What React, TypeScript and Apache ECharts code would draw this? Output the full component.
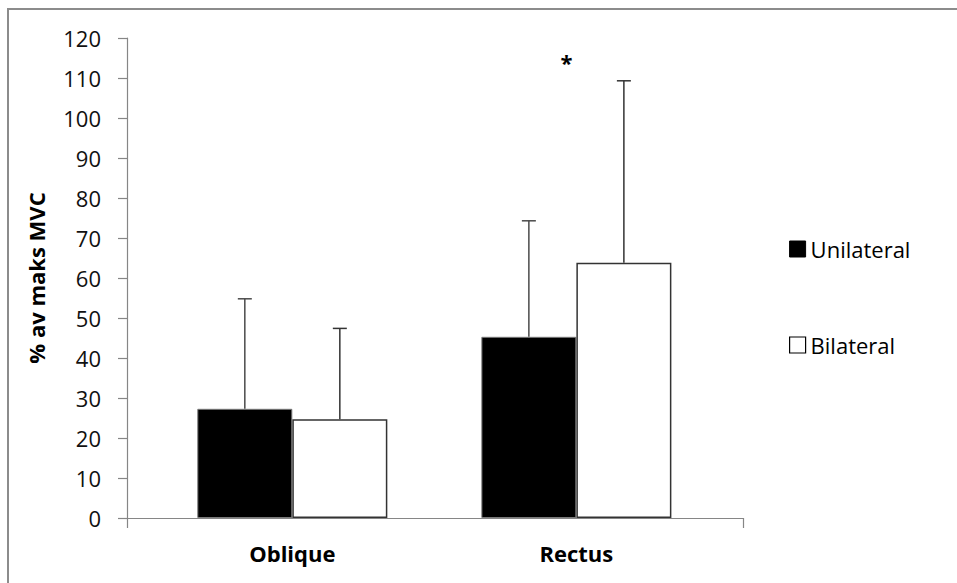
import React, { useEffect, useRef } from "react";
import * as echarts from "echarts";

const categories = ["Oblique", "Rectus"];
const unilateralMean = [27.3, 45.3];
const unilateralSd = [27.5, 29.0];
const bilateralMean = [24.7, 63.8];
const bilateralSd = [22.7, 45.5];
const significanceLabel = ["", "*"];
const significanceLevel = [null, 114];
const yTicks = { min: 0, max: 120, interval: 10 };

const FONT = "'Open Sans', 'Liberation Sans', sans-serif";
const AXIS = "#868686";
const GAP = 0.331;

function errorBar(sign: number, color: string) {
  return (params: any, api: any) => {
    const cat = api.value(0);
    const mean = api.value(1);
    const sd = api.value(2);
    const band = api.size([1, 0])[0];
    const barW = (band * (1 - GAP)) / 2;
    const base = api.coord([cat, mean]);
    const top = api.coord([cat, mean + sd]);
    const x = base[0] + (sign * barW) / 2;
    const style = { stroke: color, lineWidth: 1.5 };
    return {
      type: "group",
      children: [
        { type: "line", shape: { x1: x, y1: base[1], x2: x, y2: top[1] }, style },
        { type: "line", shape: { x1: x - 7, y1: top[1], x2: x + 7, y2: top[1] }, style },
      ],
    };
  };
}

export default function App() {
  const ref = useRef<HTMLDivElement>(null);
  useEffect(() => {
    const chart = echarts.init(ref.current!, null, { renderer: "svg" });
    const sigData = significanceLevel
      .map((v, i) => (v == null ? null : [i, v, i]))
      .filter((d) => d != null);
    chart.setOption({
      animation: false,
      backgroundColor: "#fff",
      textStyle: { fontFamily: FONT },
      graphic: [
        {
          type: "rect",
          shape: { x: 8, y: 9, width: 1000, height: 1000 },
          style: { fill: "none", stroke: "#8c8c8c", lineWidth: 2 },
          silent: true,
        },
      ],
      legend: {
        orient: "vertical",
        left: 789,
        top: 238,
        padding: 0,
        itemWidth: 16,
        itemHeight: 16,
        itemGap: 74,
        data: [
          { name: "Unilateral", icon: "rect", itemStyle: { color: "#000", borderColor: "#000", borderWidth: 1 } },
          { name: "Bilateral", icon: "rect", itemStyle: { color: "#fff", borderColor: "#000", borderWidth: 1.2 } },
        ],
        textStyle: { fontFamily: FONT, fontSize: 22, color: "#000", lineHeight: 22 },
      },
      grid: [
        { left: 127, right: 214, top: 38, bottom: 65, containLabel: false },
        { left: 150.3, right: 238.6, top: 38, bottom: 65, containLabel: false },
      ],
      xAxis: [
        {
          gridIndex: 0,
          type: "value",
          min: 0,
          max: 1,
          interval: 1,
          axisLine: { show: true, lineStyle: { color: AXIS, width: 1.2 } },
          axisTick: { show: true, inside: false, length: 10, lineStyle: { color: AXIS, width: 1.2 } },
          axisLabel: { show: false },
          splitLine: { show: false },
        },
        {
          gridIndex: 1,
          type: "category",
          data: categories,
          axisLine: { show: false },
          axisTick: { show: false },
          axisLabel: { fontFamily: FONT, fontSize: 22, fontWeight: "bold", color: "#000", margin: 24 },
        },
      ],
      yAxis: [
        {
          gridIndex: 0,
          type: "value",
          min: yTicks.min,
          max: yTicks.max,
          interval: yTicks.interval,
          name: "% av maks MVC",
          nameLocation: "middle",
          nameRotate: 90,
          nameGap: 80,
          nameTextStyle: { fontFamily: FONT, fontSize: 22, fontWeight: "bold", color: "#000" },
          axisLine: { show: true, lineStyle: { color: AXIS, width: 1.2 } },
          axisTick: { show: true, inside: false, length: 9, lineStyle: { color: AXIS, width: 1.2 } },
          axisLabel: { fontFamily: FONT, fontSize: 22, color: "#111", margin: 26 },
          splitLine: { show: false },
        },
        {
          gridIndex: 1,
          type: "value",
          min: yTicks.min,
          max: yTicks.max,
          interval: yTicks.interval,
          show: false,
          splitLine: { show: false },
        },
      ],
      series: [
        {
          name: "Unilateral",
          type: "bar",
          xAxisIndex: 1,
          yAxisIndex: 1,
          data: unilateralMean,
          barGap: "0%",
          barCategoryGap: GAP * 100 + "%",
          itemStyle: { color: "#000", borderColor: "#7a7a7a", borderWidth: 1 },
          z: 2,
        },
        {
          name: "Bilateral",
          type: "bar",
          xAxisIndex: 1,
          yAxisIndex: 1,
          data: bilateralMean,
          barGap: "0%",
          barCategoryGap: GAP * 100 + "%",
          itemStyle: { color: "#fff", borderColor: "#333", borderWidth: 1.5 },
          z: 2,
        },
        {
          name: "Unilateral SD",
          type: "custom",
          xAxisIndex: 1,
          yAxisIndex: 1,
          renderItem: errorBar(-1, "#4a4a4a"),
          encode: { x: 0, y: 1 },
          data: unilateralMean.map((m, i) => [i, m, unilateralSd[i]]),
          z: 3,
        },
        {
          name: "Bilateral SD",
          type: "custom",
          xAxisIndex: 1,
          yAxisIndex: 1,
          renderItem: errorBar(1, "#333"),
          encode: { x: 0, y: 1 },
          data: bilateralMean.map((m, i) => [i, m, bilateralSd[i]]),
          z: 3,
        },
        {
          name: "Significance",
          type: "custom",
          xAxisIndex: 1,
          yAxisIndex: 1,
          encode: { x: 0, y: 1 },
          data: sigData,
          renderItem: (params: any, api: any) => {
            const p = api.coord([api.value(0), api.value(1)]);
            return {
              type: "text",
              x: p[0] - 10,
              y: p[1],
              style: {
                text: significanceLabel[api.value(2)],
                fontFamily: FONT,
                fontSize: 22,
                fontWeight: "bold",
                fill: "#000",
                align: "center",
                verticalAlign: "middle",
              },
            };
          },
          z: 4,
        },
      ],
    });
    return () => chart.dispose();
  }, []);
  return (
    <div
      ref={ref}
      style={{ position: "absolute", left: 0, top: 0, width: 957, height: 583 }}
    />
  );
}
